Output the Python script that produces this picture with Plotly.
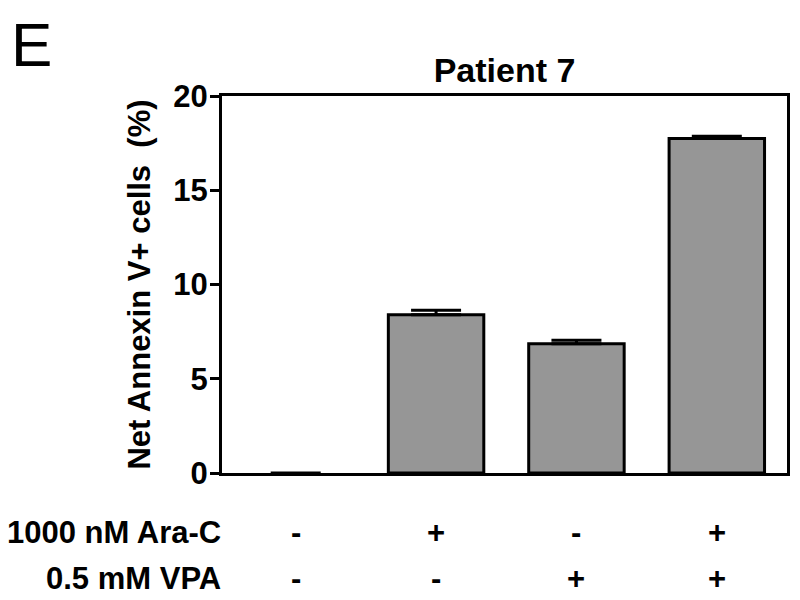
import plotly.graph_objects as go

categories = ["Control", "Ara-C", "VPA", "Ara-C + VPA"]
values = [0.0, 8.4, 6.86, 17.75]
errors = [0.0, 0.23, 0.18, 0.12]
ara_c_row = ["-", "+", "-", "+"]
vpa_row = ["-", "-", "+", "+"]
row_labels = ["1000 nM Ara-C", "0.5 mM VPA"]
y_ticks = [0, 5, 10, 15, 20]

FONT = "Liberation Sans, Arial, sans-serif"
xs = list(range(len(categories)))
line_widths = [0 if v == 0 else 3 for v in values]
fill_colors = ["rgba(0,0,0,0)" if v == 0 else "#969696" for v in values]
err_plus = [e if v > 0 else None for e, v in zip(errors, values)]
err_minus = [0 if v > 0 else None for v in values]

fig = go.Figure()
fig.add_trace(go.Bar(
    x=xs, y=values, width=0.68,
    marker=dict(color=fill_colors, line=dict(color="black", width=line_widths)),
    error_y=dict(type="data", array=err_plus, arrayminus=err_minus,
                 symmetric=False, color="black", thickness=3, width=25),
))

bold = dict(family=FONT, size=31, color="black", weight="bold")
annotations = []
for row_vals, label, yp in [(ara_c_row, row_labels[0], -0.159), (vpa_row, row_labels[1], -0.279)]:
    annotations.append(dict(text=label, xref="paper", yref="paper",
                            x=0, y=yp, xanchor="right", yanchor="middle", xshift=1,
                            showarrow=False, font=bold))
    for i, s in enumerate(row_vals):
        annotations.append(dict(text=s, xref="x", yref="paper",
                                x=i, y=yp, xanchor="center", yanchor="middle",
                                showarrow=False, font=bold))
annotations.append(dict(text="E", xref="paper", yref="paper", x=-0.337, y=1.234,
                        xanchor="center", yanchor="top", showarrow=False,
                        font=dict(family=FONT, size=62, color="black")))

fig.update_layout(
    width=792, height=592,
    margin=dict(l=214, r=10, t=88, b=127),
    paper_bgcolor="white", plot_bgcolor="white",
    showlegend=False,
    title=dict(text="Patient 7", x=0.5, xanchor="center", xref="paper",
               y=0.895, yanchor="middle",
               font=dict(family=FONT, size=34, color="black", weight="bold")),
    xaxis=dict(range=[-0.525, 3.5], showticklabels=False, ticks="", showgrid=False,
               zeroline=False, showline=True, linecolor="black", linewidth=3, mirror=True),
    yaxis=dict(range=[0, 20], tickvals=y_ticks, ticks="outside", ticklen=9, tickwidth=3,
               tickcolor="black", showgrid=False, zeroline=False, showline=True,
               linecolor="black", linewidth=3, mirror=True,
               tickfont=bold, ticklabelstandoff=-4,
               title=dict(text="Net Annexin V+ cells  (%)", standoff=14, font=bold)),
    annotations=annotations,
)
fig.write_html("out.html")
